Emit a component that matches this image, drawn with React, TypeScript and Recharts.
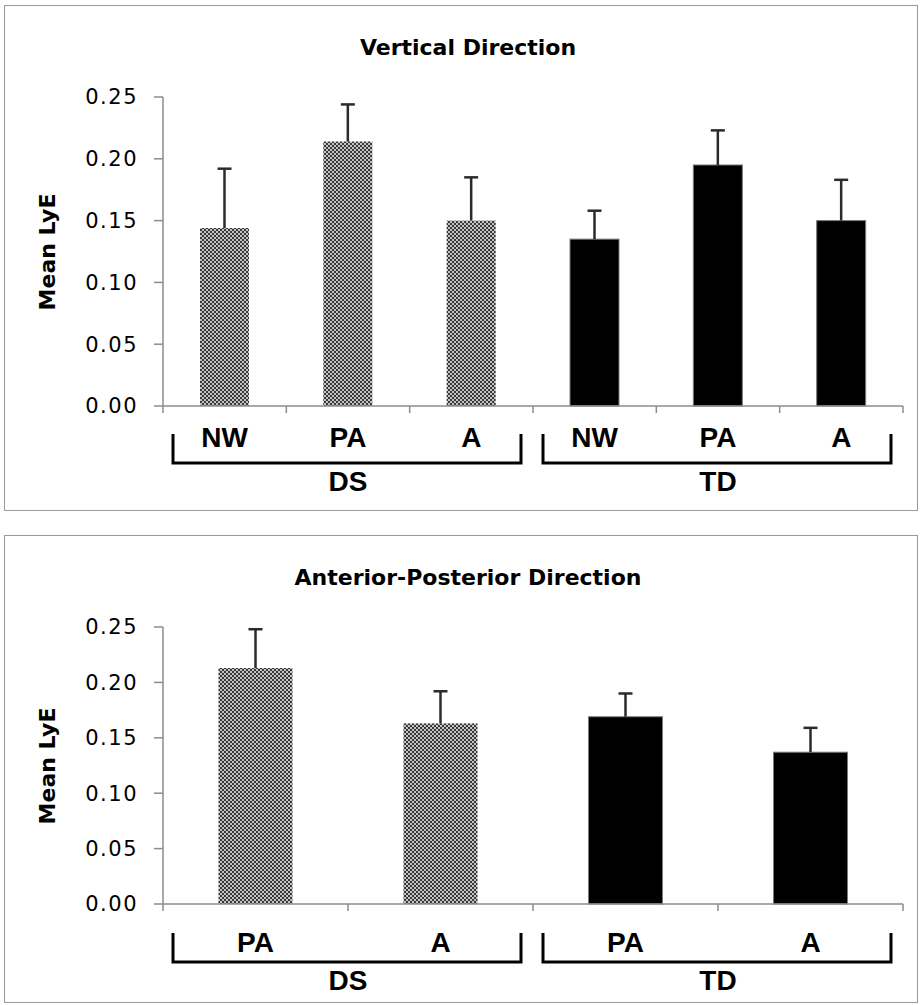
import React from "react";
import { Bar, BarChart, XAxis, YAxis } from "recharts";

// Vertical direction panel
const verticalCategories = ["NW", "PA", "A", "NW", "PA", "A"];
const verticalGroups = ["DS", "DS", "DS", "TD", "TD", "TD"];
const verticalMeans = [0.144, 0.214, 0.15, 0.135, 0.195, 0.15];
const verticalErrors = [0.048, 0.03, 0.035, 0.023, 0.028, 0.033];

// Anterior-posterior direction panel
const apCategories = ["PA", "A", "PA", "A"];
const apGroups = ["DS", "DS", "TD", "TD"];
const apMeans = [0.213, 0.163, 0.169, 0.137];
const apErrors = [0.035, 0.029, 0.021, 0.022];

const yTicks = [0, 0.05, 0.1, 0.15, 0.2, 0.25];
const groupNames = ["DS", "TD"];

type Row = { name: string; group: string; value: number; err: number };

const buildRows = (cats: string[], groups: string[], means: number[], errs: number[]): Row[] =>
  cats.map((name, i) => ({ name, group: groups[i], value: means[i], err: errs[i] }));

const verticalRows = buildRows(verticalCategories, verticalGroups, verticalMeans, verticalErrors);
const apRows = buildRows(apCategories, apGroups, apMeans, apErrors);

const AXIS_GREY = "#8c8c8c";
const LABEL_FONT = "'Liberation Sans', Arial, sans-serif";
const TICK_FONT = "'DejaVu Sans', Verdana, sans-serif";
const PLOT_WIDTH = 740;

function WhiskerBar(props: any) {
  const { x, y, width, height, payload, patternId } = props;
  if (!height || !payload) return null;
  const perUnit = height / payload.value;
  const top = y - payload.err * perUnit;
  const cx = x + width / 2;
  const isDS = payload.group === "DS";
  return (
    <g>
      <rect
        x={x}
        y={y}
        width={width}
        height={height}
        fill={isDS ? `url(#${patternId})` : "#000"}
        stroke={isDS ? "none" : "#7a7a7a"}
        strokeWidth={1}
      />
      <line x1={cx} y1={y} x2={cx} y2={top} stroke="#2b2b2b" strokeWidth={2.5} />
      <line x1={cx - 7} y1={top} x2={cx + 7} y2={top} stroke="#2b2b2b" strokeWidth={2.5} />
    </g>
  );
}

// category label plus Excel-style tick marks on the band edges
function CategoryTick(props: any) {
  const { x, y, payload, index, count, labelOffset } = props;
  const half = (props.width ?? PLOT_WIDTH) / count / 2;
  const tickStyle = { stroke: AXIS_GREY, strokeWidth: 1.5 };
  return (
    <g>
      <line x1={x - half} y1={y} x2={x - half} y2={y + 7} {...tickStyle} />
      {index === count - 1 && <line x1={x + half} y1={y} x2={x + half} y2={y + 7} {...tickStyle} />}
      <text x={x} y={y + labelOffset} textAnchor="middle" fontFamily={LABEL_FONT} fontWeight="bold" fontSize={28} fill="#000">
        {payload.value}
      </text>
    </g>
  );
}

function GroupTick(props: any) {
  const { x, y, payload } = props;
  const half = (props.width ?? PLOT_WIDTH) / groupNames.length / 2;
  const left = x - half + 10;
  const right = x + half - 12;
  return (
    <g>
      <path
        d={`M${left},${y - 22} V${y + 7} H${right} V${y - 22}`}
        fill="none"
        stroke="#000"
        strokeWidth={3}
      />
      <text x={x} y={y + 35} textAnchor="middle" fontFamily={LABEL_FONT} fontWeight="bold" fontSize={28} fill="#000">
        {payload.value}
      </text>
    </g>
  );
}

type PanelProps = {
  title: string;
  rows: Row[];
  patternId: string;
  top: number;
  height: number;
  plotTop: number;
  plotBottom: number;
  labelHeight: number;
  labelOffset: number;
};

function LyEPanel({ title, rows, patternId, top, height, plotTop, plotBottom, labelHeight, labelOffset }: PanelProps) {
  const bottomSpace = height - (plotBottom - top);
  const groupHeight = bottomSpace - labelHeight;

  return (
    <>
      <div
        style={{
          position: "absolute",
          left: 4,
          top,
          width: 914,
          height,
          boxSizing: "border-box",
          border: "1.5px solid #9a9a9a"
        }}
      />
      <div
        style={{
          position: "absolute",
          left: 0,
          width: 936,
          top: top + 32,
          textAlign: "center",
          fontFamily: TICK_FONT,
          fontWeight: "bold",
          fontSize: 22,
          lineHeight: 1,
          color: "#000"
        }}
      >
        {title}
      </div>
      <div
        style={{
          position: "absolute",
          left: 47,
          top: (plotTop + plotBottom) / 2,
          transform: "translate(-50%, -50%) rotate(-90deg)",
          fontFamily: TICK_FONT,
          fontWeight: "bold",
          fontSize: 22,
          whiteSpace: "nowrap",
          color: "#000"
        }}
      >
        Mean LyE
      </div>
      <div style={{ position: "absolute", left: 0, top }}>
        <BarChart
          width={922}
          height={height}
          data={rows}
          margin={{ top: plotTop - top, right: 19, left: 83, bottom: 0 }}
          barCategoryGap="30%"
        >
          <defs>
            <pattern id={patternId} width={4} height={4} patternUnits="userSpaceOnUse">
              <rect width={4} height={4} fill="#c4c4c4" />
              <rect width={2} height={2} fill="#383838" />
              <rect x={2} y={2} width={2} height={2} fill="#383838" />
            </pattern>
          </defs>
          <XAxis
            dataKey="name"
            axisLine={{ stroke: AXIS_GREY, strokeWidth: 1.5 }}
            tickLine={false}
            tickSize={0}
            tickMargin={0}
            height={labelHeight}
            interval={0}
            tick={<CategoryTick count={rows.length} labelOffset={labelOffset} />}
          />
          <XAxis
            xAxisId="group"
            dataKey="group"
            allowDuplicatedCategory={false}
            axisLine={false}
            tickLine={false}
            tickSize={0}
            tickMargin={0}
            height={groupHeight}
            interval={0}
            tick={<GroupTick />}
          />
          <YAxis
            width={80}
            domain={[0, 0.25]}
            ticks={yTicks}
            tickFormatter={(v: number) => v.toFixed(2)}
            tickSize={9}
            tickMargin={16}
            axisLine={{ stroke: AXIS_GREY, strokeWidth: 1.5 }}
            tickLine={{ stroke: AXIS_GREY, strokeWidth: 1.5 }}
            tick={{ fontFamily: TICK_FONT, fontSize: 21, fill: "#000", letterSpacing: 1.5 }}
          />
          <Bar
            dataKey="value"
            isAnimationActive={false}
            shape={(p: any) => <WhiskerBar {...p} patternId={patternId} />}
          />
        </BarChart>
      </div>
    </>
  );
}

export default function App() {
  return (
    <div style={{ position: "absolute", left: 0, top: 0, width: 922, height: 1005, background: "#fff" }}>
      <LyEPanel
        title="Vertical Direction"
        rows={verticalRows}
        patternId="dsPatternV"
        top={5}
        height={506}
        plotTop={97}
        plotBottom={406}
        labelHeight={50}
        labelOffset={41}
      />
      <LyEPanel
        title="Anterior-Posterior Direction"
        rows={apRows}
        patternId="dsPatternAP"
        top={535}
        height={468}
        plotTop={627}
        plotBottom={904}
        labelHeight={51}
        labelOffset={48}
      />
    </div>
  );
}
